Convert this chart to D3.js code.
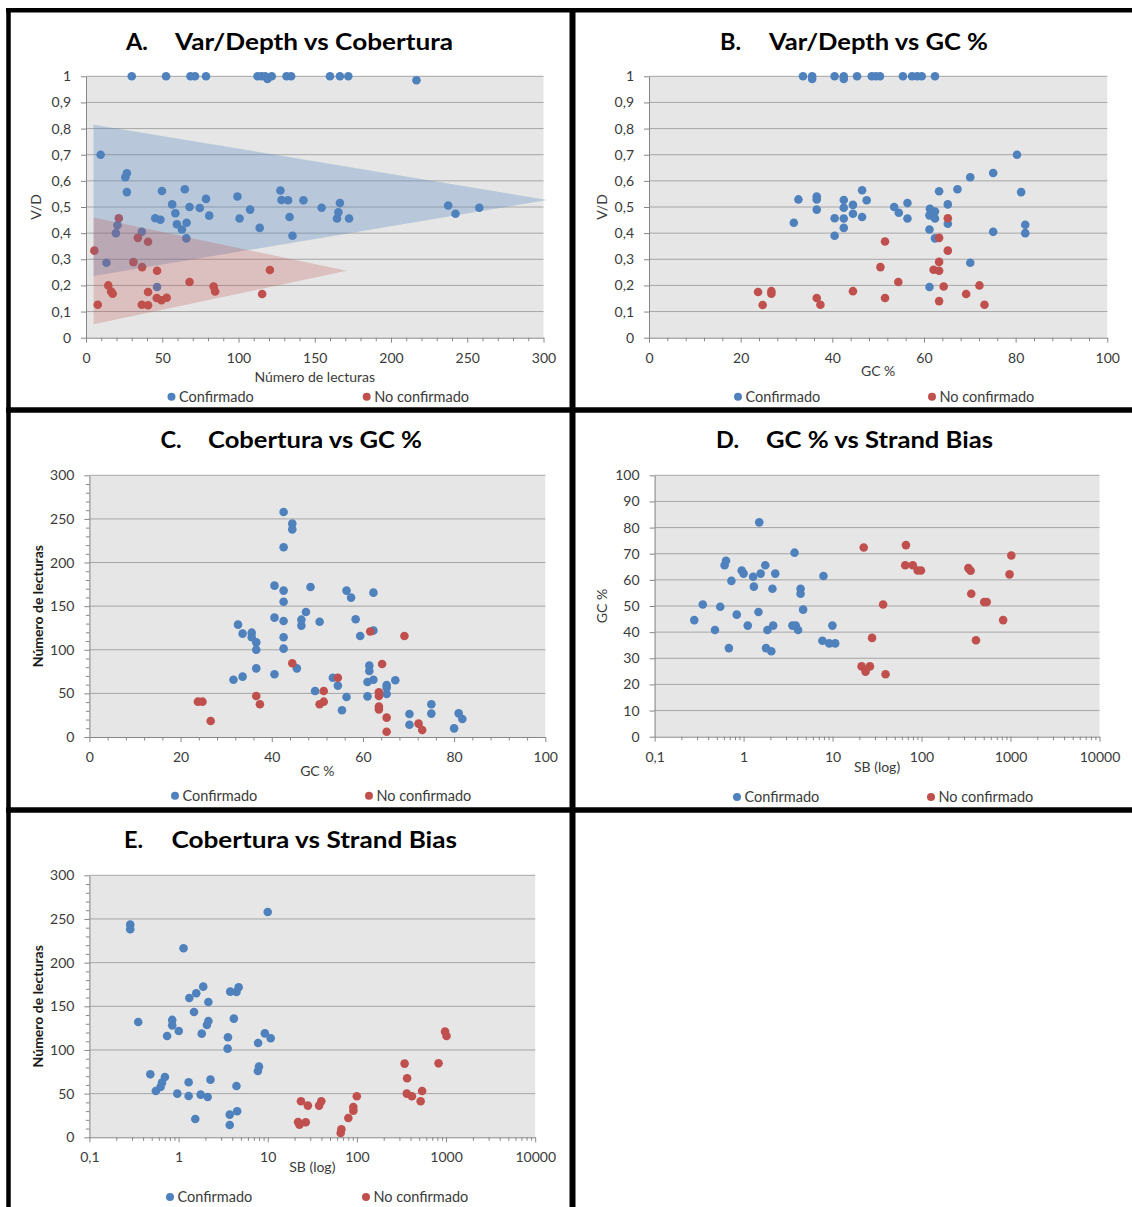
<!DOCTYPE html>
<html><head><meta charset="utf-8">
<script src="https://cdn.jsdelivr.net/npm/d3@7"></script>
<style>
body{margin:0;background:#fff;}
svg{display:block;font-family:Lato,"Open Sans",sans-serif;}
</style>
</head><body>
<script>
// ---------- DATA ----------
const seriesNames = ["Confirmado", "No confirmado"];

// Panel A: Var/Depth vs Cobertura  [lecturas, V/D]
const aConfirmado = [
  [30,1],[52.5,1],[68.5,1],[71.5,1],[78.7,1],[112.5,1],[115,1],[117.5,1],[119,0.99],[121.8,1],
  [131.5,1],[134.5,1],[160,1],[166.5,1],[172,1],[216.7,0.985],
  [9.6,0.70],[25.8,0.614],[26.8,0.629],[26.8,0.557],[49.8,0.561],[64.8,0.568],[56.5,0.51],
  [58.6,0.476],[59.6,0.434],[62.9,0.414],[66,0.44],[67.9,0.50],[74.6,0.496],[78.7,0.531],
  [80.8,0.467],[45.4,0.457],[48.8,0.451],[65.8,0.38],[99.3,0.54],[100.7,0.456],[107.6,0.49],
  [113.9,0.42],[127.5,0.563],[128.2,0.527],[132.5,0.526],[133.5,0.462],[135.4,0.39],
  [142.6,0.526],[154.5,0.497],[166.5,0.515],[165.5,0.48],[164.6,0.456],[172.5,0.456],
  [237.5,0.506],[242.3,0.474],[257.9,0.497],[20.6,0.43],[19.6,0.40],[36.6,0.405],
  [13.4,0.287],[46.6,0.194]
];
const aNoConfirmado = [
  [5.5,0.333],[7.7,0.126],[14.6,0.2],[16.5,0.177],[17.5,0.168],[21.5,0.457],[31.1,0.289],
  [34,0.382],[40.7,0.367],[36.8,0.27],[46.6,0.256],[36.6,0.126],[40.7,0.124],[40.7,0.175],
  [46.4,0.152],[49.5,0.143],[52.9,0.153],[67.9,0.213],[83.7,0.196],[84.7,0.177],
  [120.6,0.259],[115.5,0.167]
];
// shaded wedges of panel A (data units)
const aWedgeConfirmado = [[5,0.815],[5,0.236],[302.6,0.527]];
const aWedgeNoConfirmado = [[5,0.46],[5,0.051],[171,0.256]];

// Panel B: Var/Depth vs GC %  [GC, V/D]
const bConfirmado = [
  [33.6,1],[35.6,1],[35.6,0.99],[40.5,1],[42.5,1],[42.5,0.99],[45.4,1],[48.6,1],[49.5,1],
  [50.4,1],[55.4,1],[57.4,1],[58.5,1],[59.5,1],[62.4,1],
  [80.3,0.70],[75.1,0.63],[70.1,0.614],[67.3,0.568],[63.3,0.56],[81.2,0.557],[65.2,0.51],
  [61.3,0.493],[62.4,0.483],[61.2,0.468],[62.4,0.456],[65.2,0.436],[61.2,0.414],[62.4,0.38],
  [75.1,0.405],[82.1,0.432],[82.1,0.40],[70.1,0.287],[61.2,0.194],[32.6,0.529],[31.6,0.44],
  [36.6,0.54],[36.6,0.529],[36.6,0.49],[40.5,0.457],[40.5,0.39],[42.5,0.527],[42.5,0.497],
  [42.5,0.456],[42.5,0.42],[44.5,0.508],[44.5,0.474],[46.5,0.564],[46.5,0.462],[47.5,0.526],
  [53.5,0.5],[54.5,0.478],[56.4,0.515],[56.4,0.456]
];
const bNoConfirmado = [
  [23.8,0.175],[24.8,0.125],[26.7,0.178],[26.7,0.168],[36.6,0.152],[37.4,0.126],[44.5,0.178],
  [51.5,0.368],[50.5,0.27],[51.5,0.152],[54.4,0.213],[65.2,0.457],[63.3,0.382],[65.2,0.333],
  [63.3,0.29],[62.1,0.26],[63.3,0.256],[64.3,0.196],[63.3,0.14],[69.2,0.167],[72.1,0.2],
  [73.2,0.126]
];

// Panel C: Cobertura vs GC %  [GC, lecturas]
const cConfirmado = [
  [42.6,258],[44.5,244.6],[44.5,238],[42.6,217.5],[40.6,173.5],[42.6,167.8],[48.5,172],
  [56.4,167.8],[57.4,159.8],[62.3,165.5],[42.6,155],[47.5,143.3],[40.6,136.8],[46.5,134.5],
  [46.5,127.7],[42.6,133],[50.5,132.2],[58.4,135],[32.6,128.8],[33.6,118.5],[35.6,119.6],
  [35.6,114.3],[36.6,108.5],[36.6,100],[42.6,114.3],[42.6,101.3],[59.4,115.8],[62.3,122],
  [36.6,78.7],[40.6,71.9],[31.6,65.7],[33.6,69.2],[45.5,78.7],[53.4,68],[54.5,58.9],
  [49.5,52.7],[56.4,45.9],[55.4,30.6],[61.4,81.8],[61.4,75.7],[61,63.1],[62.3,65.7],
  [67.1,65],[65.2,59.6],[65.2,56.6],[65.2,49.3],[61,46.6],[75,37.5],[75,26.8],[70.2,26.4],
  [70.2,14.1],[81,27.1],[81.8,20.6],[80,9.9]
];
const cNoConfirmado = [
  [23.8,40.5],[24.8,40.5],[26.6,18.3],[36.6,47],[37.4,37.5],[44.5,84.5],[54.5,68],[51.4,52.7],
  [51.4,40.5],[50.5,37.5],[61.6,121],[69.1,115.8],[64.2,83.7],[63.5,51.2],[63.5,47],
  [63.5,34.8],[63.5,31.7],[65.2,22.2],[65.2,6.1],[72.2,15.3],[73,8]
];

// Panel D: GC % vs Strand Bias  [SB, GC]
const dConfirmado = [
  [0.279,44.6],[0.348,50.6],[0.477,40.8],[0.547,49.7],[0.612,65.6],[0.635,67.3],[0.684,33.9],
  [0.73,59.6],[0.838,46.7],[0.953,63.6],[1.0,62.4],[1.114,42.5],[1.28,61.2],[1.305,57.4],
  [1.47,47.7],[1.5,82],[1.556,62.4],[1.754,65.6],[1.787,33.9],[1.854,40.8],[2.05,32.7],
  [2.11,56.6],[2.15,42.5],[2.27,62.4],[3.54,42.5],[3.85,42.5],[3.74,70.4],[4.1,40.8],
  [4.37,56.6],[4.37,54.7],[4.67,48.6],[7.69,36.7],[7.9,61.5],[9.17,35.7],[9.96,42.5],
  [10.7,35.7]
];
const dNoConfirmado = [
  [22.4,72.4],[21.2,26.9],[23.5,24.9],[26.3,26.9],[27.8,37.8],[37,50.6],[39.4,23.9],
  [65.6,65.6],[66.8,73.3],[79.7,65.6],[90.6,63.6],[98.5,63.6],[336,64.5],[356,63.5],
  [362,54.7],[409,36.9],[506,51.5],[540,51.5],[826,44.6],[975,62.1],[1021,69.3]
];

// Panel E: Cobertura vs Strand Bias  [SB, lecturas]
const eConfirmado = [
  [0.287,243.5],[0.287,238.2],[0.353,132],[0.482,72.1],[0.556,53],[0.628,57.6],[0.652,62.6],
  [0.703,69],[0.744,116],[0.849,134.4],[0.849,128.2],[0.968,50],[1.005,121.8],[1.137,216.4],
  [1.297,63],[1.297,47.3],[1.32,159.5],[1.49,143.5],[1.54,21],[1.58,164.9],[1.77,48.9],
  [1.82,118.7],[1.89,172.5],[2.08,128.6],[2.16,133.2],[2.12,46.2],[2.16,155],[2.28,66],
  [3.55,101.5],[3.58,114.5],[3.8,166.8],[3.75,26],[3.75,14.1],[4.17,135.9],[4.46,166.4],
  [4.72,171.8],[4.46,58.8],[4.54,29.8],[7.76,76],[7.98,80.9],[7.8,108],[9.29,119],[10,258],
  [10.8,113.4]
];
const eNoConfirmado = [
  [21.9,17.6],[22.7,14.5],[23.6,41.2],[26.7,17.2],[28.2,36.3],[37.7,36.3],[39.9,41.2],
  [65.8,5],[67,9.2],[80.2,22.1],[91.3,30.5],[91.3,34.7],[99.8,47],[343,84.4],[363,50],
  [366,67.6],[414,47],[519,41.2],[539,53],[824,84.7],[975,121],[1013,116]
];

// ---------- TICKS ----------
const vdTicks = [0,0.1,0.2,0.3,0.4,0.5,0.6,0.7,0.8,0.9,1];
const vdTickLabels = ["0","0,1","0,2","0,3","0,4","0,5","0,6","0,7","0,8","0,9","1"];
const readsTicks = [0,50,100,150,200,250,300];
const gcTicks = [0,20,40,60,80,100];
const gc10Ticks = [0,10,20,30,40,50,60,70,80,90,100];
const sbTicks = [0.1,1,10,100,1000,10000];
const sbTickLabels = ["0,1","1","10","100","1000","10000"];

// ---------- STYLE ----------
const COL = {conf:"#4f81bd", noconf:"#c0504d", plotBg:"#e6e6e6", grid:"#a6a6a6",
             axis:"#868686", text:"#3a3a3a"};

const W = 1132, H = 1207;
const svg = d3.select("body").append("svg").attr("width", W).attr("height", H);
svg.append("rect").attr("width", W).attr("height", H).attr("fill", "#fff");

function linMinor(domain, step, majors) {
  const out = [];
  for (let v = domain[0]; v <= domain[1] + 1e-9; v += step) {
    const r = Math.round(v * 1000) / 1000;
    if (!majors.some(m => Math.abs(m - r) < 1e-9)) out.push(r);
  }
  return out;
}
function logMinor(majors) {
  const out = [];
  for (let i = 0; i < majors.length - 1; i++)
    for (let k = 2; k <= 9; k++) out.push(majors[i] * k);
  return out;
}

const panels = [
  {label:"A.", title:"Var/Depth vs Cobertura", lx:126, tx:175, tEnd:453, tBase:49.5,
   box:[86,543.5,76.3,337.7], xLog:false, xDomain:[0,300], xTicks:readsTicks, xLabels:null,
   xMinor:linMinor([0,300],10,readsTicks), yDomain:[0,1], yTicks:vdTicks, yLabels:vdTickLabels,
   yMinor:[], xTitle:"Número de lecturas", xTitleBase:381.5, yTitle:"V/D", yTitleX:36.5,
   yTitleBold:false, conf:aConfirmado, noconf:aNoConfirmado, legY:396.7, legB:171.5, legR:366.7,
   wedges:[[aWedgeConfirmado,"rgba(79,129,189,0.30)"],[aWedgeNoConfirmado,"rgba(192,80,77,0.25)"]]},
  {label:"B.", title:"Var/Depth vs GC %", lx:720, tx:769, tEnd:988, tBase:49.5,
   box:[649,1107.3,76.3,337.7], xLog:false, xDomain:[0,100], xTicks:gcTicks, xLabels:null,
   xMinor:linMinor([0,100],4,gcTicks), yDomain:[0,1], yTicks:vdTicks, yLabels:vdTickLabels,
   yMinor:[], xTitle:"GC %", xTitleBase:376, yTitle:"V/D", yTitleX:602,
   yTitleBold:false, conf:bConfirmado, noconf:bNoConfirmado, legY:396.7, legB:738, legR:932, wedges:[]},
  {label:"C.", title:"Cobertura vs GC %", lx:160.5, tx:208, tEnd:422, tBase:448.3,
   box:[89.4,545.3,475.3,737], xLog:false, xDomain:[0,100], xTicks:gcTicks, xLabels:null,
   xMinor:linMinor([0,100],4,gcTicks), yDomain:[0,300], yTicks:readsTicks, yLabels:null,
   yMinor:linMinor([0,300],10,readsTicks), xTitle:"GC %", xTitleBase:775.5, yTitle:"Número de lecturas",
   yTitleX:38.3, yTitleBold:true, conf:cConfirmado, noconf:cNoConfirmado, legY:795.7, legB:175, legR:369, wedges:[]},
  {label:"D.", title:"GC % vs Strand Bias", lx:716, tx:766, tEnd:993, tBase:448.3,
   box:[654.6,1099.5,475.3,736.7], xLog:true, xDomain:[0.1,10000], xTicks:sbTicks, xLabels:sbTickLabels,
   xMinor:logMinor(sbTicks), yDomain:[0,100], yTicks:gc10Ticks, yLabels:null,
   yMinor:[], xTitle:"SB (log)", xTitleBase:772, yTitle:"GC %", yTitleX:602.4,
   yTitleBold:false, conf:dConfirmado, noconf:dNoConfirmado, legY:797, legB:737, legR:931, wedges:[]},
  {label:"E.", title:"Cobertura vs Strand Bias", lx:124, tx:171.5, tEnd:457, tBase:848.3,
   box:[89.4,535.2,875.3,1137.3], xLog:true, xDomain:[0.1,10000], xTicks:sbTicks, xLabels:sbTickLabels,
   xMinor:logMinor(sbTicks), yDomain:[0,300], yTicks:readsTicks, yLabels:null,
   yMinor:linMinor([0,300],10,readsTicks), xTitle:"SB (log)", xTitleBase:1172, yTitle:"Número de lecturas",
   yTitleX:38.3, yTitleBold:true, conf:eConfirmado, noconf:eNoConfirmado, legY:1197, legB:170, legR:366, wedges:[]}
];

function styleAxis(g) {
  g.select(".domain").attr("stroke", COL.axis).attr("stroke-width", 1);
  g.selectAll(".tick line").attr("stroke", COL.axis).attr("stroke-width", 1);
  g.selectAll(".tick text").attr("fill", COL.text).attr("font-size", 14)
    .attr("font-family", "Lato, 'Open Sans', sans-serif");
}

panels.forEach(p => {
  const [x0, x1, y0, y1] = p.box;
  const g = svg.append("g");
  const x = (p.xLog ? d3.scaleLog() : d3.scaleLinear()).domain(p.xDomain).range([x0, x1]);
  const y = d3.scaleLinear().domain(p.yDomain).range([y1, y0]);

  g.append("rect").attr("x", x0).attr("y", y0).attr("width", x1 - x0).attr("height", y1 - y0)
    .attr("fill", COL.plotBg);

  // gridlines
  g.append("g").selectAll("line").data(p.yTicks.filter(v => v !== p.yDomain[0])).join("line")
    .attr("x1", x0).attr("x2", x1).attr("y1", d => y(d)).attr("y2", d => y(d))
    .attr("stroke", COL.grid).attr("stroke-width", 1);

  // minor ticks
  if (p.xMinor.length) {
    const gm = g.append("g").attr("transform", `translate(0,${y1})`)
      .call(d3.axisBottom(x).tickValues(p.xMinor).tickFormat("").tickSize(3.5).tickSizeOuter(0));
    gm.select(".domain").remove();
    gm.selectAll(".tick line").attr("stroke", COL.axis);
  }
  if (p.yMinor.length) {
    const gm = g.append("g").attr("transform", `translate(${x0},0)`)
      .call(d3.axisLeft(y).tickValues(p.yMinor).tickFormat("").tickSize(3.5).tickSizeOuter(0));
    gm.select(".domain").remove();
    gm.selectAll(".tick line").attr("stroke", COL.axis);
  }

  // major axes
  const xAxis = d3.axisBottom(x).tickValues(p.xTicks).tickSize(5).tickPadding(10).tickSizeOuter(0)
    .tickFormat((d, i) => p.xLabels ? p.xLabels[i] : String(d));
  g.append("g").attr("transform", `translate(0,${y1})`).call(xAxis).call(styleAxis);
  const yAxis = d3.axisLeft(y).tickValues(p.yTicks).tickSize(5).tickPadding(10).tickSizeOuter(0)
    .tickFormat((d, i) => p.yLabels ? p.yLabels[i] : String(d));
  g.append("g").attr("transform", `translate(${x0},0)`).call(yAxis).call(styleAxis);

  // points
  [[p.conf, COL.conf], [p.noconf, COL.noconf]].forEach(([data, col]) => {
    g.append("g").selectAll("circle").data(data).join("circle")
      .attr("cx", d => x(d[0])).attr("cy", d => y(d[1])).attr("r", 4.3).attr("fill", col);
  });

  // wedges (drawn over points, translucent)
  p.wedges.forEach(([pts, fill]) => {
    g.append("path").datum(pts)
      .attr("d", d3.line().x(d => x(d[0])).y(d => y(d[1])).curve(d3.curveLinearClosed))
      .attr("fill", fill);
  });

  // axis titles
  g.append("text").attr("x", (x0 + x1) / 2).attr("y", p.xTitleBase).attr("text-anchor", "middle")
    .attr("font-size", 14).attr("fill", COL.text).text(p.xTitle);
  const cy = (y0 + y1) / 2;
  g.append("text").attr("transform", `translate(${p.yTitleX + 4.8},${cy}) rotate(-90)`)
    .attr("text-anchor", "middle").attr("font-size", 14)
    .attr("font-weight", p.yTitleBold ? 700 : 400)
    .attr("fill", p.yTitleBold ? "#1a1a1a" : COL.text).text(p.yTitle);

  // chart title
  g.append("text").attr("x", p.lx).attr("y", p.tBase).attr("font-size", 23.5).attr("font-weight", 700)
    .attr("fill", "#000").text(p.label);
  g.append("text").attr("x", p.tx).attr("y", p.tBase).attr("font-size", 23.5).attr("font-weight", 700)
    .attr("fill", "#000").attr("textLength", p.tEnd - p.tx).attr("lengthAdjust", "spacingAndGlyphs")
    .text(p.title);

  // legend
  [[p.legB, COL.conf, seriesNames[0]], [p.legR, COL.noconf, seriesNames[1]]].forEach(([lx, col, name]) => {
    g.append("circle").attr("cx", lx).attr("cy", p.legY).attr("r", 4).attr("fill", col);
    g.append("text").attr("x", lx + 7.5).attr("y", p.legY).attr("dy", "0.35em")
      .attr("font-size", 14.5).attr("fill", COL.text).text(name);
  });
});

// black frame lines
const frame = svg.append("g").attr("stroke", "#000");
frame.append("line").attr("x1", 6).attr("x2", W).attr("y1", 10.3).attr("y2", 10.3).attr("stroke-width", 4.5);
frame.append("line").attr("x1", 8.5).attr("x2", 8.5).attr("y1", 8).attr("y2", H).attr("stroke-width", 4.5);
frame.append("line").attr("x1", 572.5).attr("x2", 572.5).attr("y1", 8).attr("y2", H).attr("stroke-width", 6);
frame.append("line").attr("x1", 6).attr("x2", W).attr("y1", 410).attr("y2", 410).attr("stroke-width", 5.5);
frame.append("line").attr("x1", 6).attr("x2", W).attr("y1", 810).attr("y2", 810).attr("stroke-width", 5.5);
</script>
</body></html>
